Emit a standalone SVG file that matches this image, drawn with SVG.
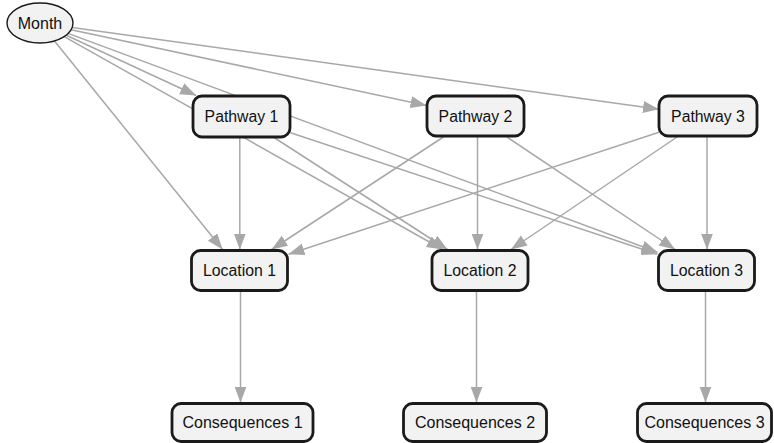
<svg xmlns="http://www.w3.org/2000/svg" width="774" height="443" viewBox="0 0 774 443">
<style>
.e{stroke:#a8a8a8;stroke-width:1.5;fill:none;marker-end:url(#ah)}
.n{fill:#f2f2f2;stroke:#1a1a1a;stroke-width:2.8}
.t{font-family:"Liberation Sans",Arial,sans-serif;font-size:15.8px;fill:#111;text-anchor:middle;dominant-baseline:central}
</style>
<defs>
<marker id="ah" markerUnits="userSpaceOnUse" markerWidth="18" markerHeight="14" refX="16" refY="6" orient="auto">
<path d="M0,0 L16,6 L0,12 z" fill="#a8a8a8"/>
</marker>
</defs>
<rect width="774" height="443" fill="#fff"/>
<g id="edges">
<line class="e" x1="66.2" y1="35.2" x2="196.2" y2="95.5"/>
<line class="e" x1="71.1" y1="29.7" x2="426.5" y2="105.5"/>
<line class="e" x1="72.1" y1="27.5" x2="659" y2="109.2"/>
<line class="e" x1="54.5" y1="41" x2="222.6" y2="249.5"/>
<line class="e" x1="64.2" y1="36.6" x2="442.7" y2="249.5"/>
<line class="e" x1="68.1" y1="33.4" x2="657.5" y2="252.3"/>
<line class="e" x1="239.8" y1="137.5" x2="239.8" y2="249.5"/>
<line class="e" x1="274" y1="137.5" x2="447.5" y2="249.5"/>
<line class="e" x1="290.5" y1="132.7" x2="657.5" y2="254.3"/>
<line class="e" x1="443.4" y1="137" x2="271.6" y2="249.5"/>
<line class="e" x1="477.5" y1="137" x2="477.5" y2="249.5"/>
<line class="e" x1="506.9" y1="137" x2="675.1" y2="249.5"/>
<line class="e" x1="659" y1="132.2" x2="288.5" y2="254.3"/>
<line class="e" x1="677" y1="137" x2="511" y2="249.5"/>
<line class="e" x1="707" y1="137" x2="707" y2="249.5"/>
<line class="e" x1="240.5" y1="291.5" x2="240.5" y2="402.5"/>
<line class="e" x1="476.5" y1="291.5" x2="476.5" y2="402.5"/>
<line class="e" x1="705.5" y1="291.5" x2="705.5" y2="402.5"/>
</g>
<g id="month"><ellipse cx="40" cy="23" rx="33" ry="20" fill="#f2f2f2" stroke="#1a1a1a" stroke-width="1.4"/><text class="t" x="40" y="23" style="font-size:16px">Month</text></g>
<g id="pathway1"><rect class="n" x="193" y="96" width="97" height="41" rx="9"/><text class="t" x="241.5" y="116.5">Pathway 1</text></g>
<g id="pathway2"><rect class="n" x="427" y="96" width="97" height="40" rx="9"/><text class="t" x="475.5" y="116">Pathway 2</text></g>
<g id="pathway3"><rect class="n" x="659" y="96" width="98" height="40" rx="9"/><text class="t" x="708" y="116">Pathway 3</text></g>
<g id="location1"><rect class="n" x="191.5" y="250.5" width="96" height="40" rx="9"/><text class="t" x="239.5" y="270.5">Location 1</text></g>
<g id="location2"><rect class="n" x="432" y="250.5" width="96" height="40" rx="9"/><text class="t" x="480" y="270.5">Location 2</text></g>
<g id="location3"><rect class="n" x="658.5" y="250.5" width="96" height="40" rx="9"/><text class="t" x="706.5" y="270.5">Location 3</text></g>
<g id="consequences1"><rect class="n" x="172" y="403.5" width="141" height="38" rx="9"/><text class="t" x="242.5" y="422.5" style="font-size:16px">Consequences 1</text></g>
<g id="consequences2"><rect class="n" x="403.5" y="403.5" width="143" height="38" rx="9"/><text class="t" x="475" y="422.5" style="font-size:16px">Consequences 2</text></g>
<g id="consequences3"><rect class="n" x="637.5" y="403.5" width="134" height="38" rx="9"/><text class="t" x="704.5" y="422.5" style="font-size:16px">Consequences 3</text></g>
</svg>
